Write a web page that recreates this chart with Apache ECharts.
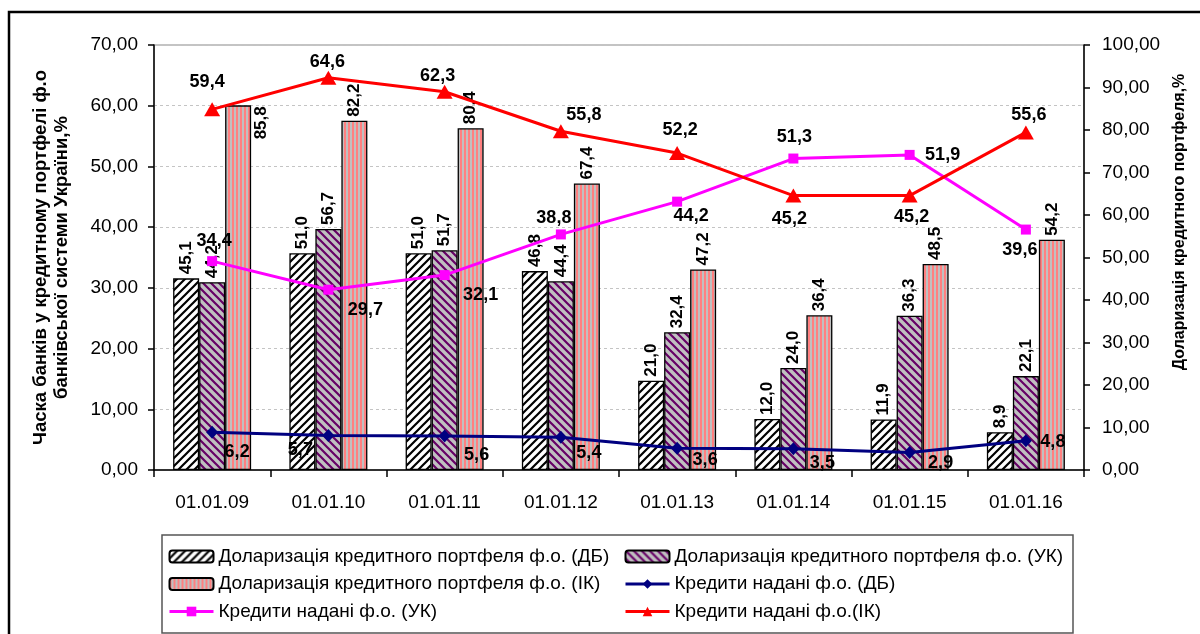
<!DOCTYPE html>
<html>
<head>
<meta charset="utf-8">
<script src="https://cdn.jsdelivr.net/npm/echarts@6/dist/echarts.min.js"></script>
<style>
    html, body {margin: 0; padding: 0; background: #fff;}
    #chart {width: 1200px; height: 634px;}
</style>
</head>
<body>
<div id="chart"></div>
<script>
// dates
var categories = ['01.01.09', '01.01.10', '01.01.11', '01.01.12', '01.01.13', '01.01.14', '01.01.15', '01.01.16'];
// доларизація, % (права вісь)
var dollarDB = [45.1, 51.0, 51.0, 46.8, 21.0, 12.0, 11.9, 8.9];
var dollarUK = [44.2, 56.7, 51.7, 44.4, 32.4, 24.0, 36.3, 22.1];
var dollarIK = [85.8, 82.2, 80.4, 67.4, 47.2, 36.4, 48.5, 54.2];
// частка банків, % (ліва вісь)
var loansDB = [6.2, 5.7, 5.6, 5.4, 3.6, 3.5, 2.9, 4.8];
var loansUK = [34.4, 29.7, 32.1, 38.8, 44.2, 51.3, 51.9, 39.6];
var loansIK = [59.4, 64.6, 62.3, 55.8, 52.2, 45.2, 45.2, 55.6];

var names = {
    bDB: 'Доларизація кредитного портфеля ф.о. (ДБ)',
    bUK: 'Доларизація кредитного портфеля ф.о. (УК)',
    bIK: 'Доларизація кредитного портфеля ф.о. (ІК)',
    lDB: 'Кредити надані ф.о. (ДБ)',
    lUK: 'Кредити надані ф.о. (УК)',
    lIK: 'Кредити надані ф.о.(ІК)'
};

// label shifts for the line series, like in the excel picture
var offDB = [[25, 20], [-28, 15], [32, 19], [28, 16], [28, 12], [29, 14], [31, 11], [27, 1]];
var offUK = [[2, -20], [37, 20], [36, 20], [-7, -16], [14, 14], [1, -22], [33, 0], [-6, 20]];
var offIK = [[-5, -27], [-1, -16], [-7, -16], [23, -16], [3, -23], [-4, 23], [2, 21], [3, -17]];

var FONT = 'Liberation Sans, Arial, sans-serif';

function comma(v, n) {
    return v.toFixed(n).replace('.', ',');
}

function hatch(bg, fg, dir) {
    var c = document.createElement('canvas');
    c.width = 8; c.height = 8;
    var g = c.getContext('2d');
    g.fillStyle = bg;
    g.fillRect(0, 0, 8, 8);
    g.strokeStyle = fg;
    g.lineWidth = 2.2;
    g.beginPath();
    if (dir > 0) {
        g.moveTo(-4, 4); g.lineTo(4, -4);
        g.moveTo(0, 8); g.lineTo(8, 0);
        g.moveTo(4, 12); g.lineTo(12, 4);
    } else {
        g.moveTo(-4, 4); g.lineTo(4, 12);
        g.moveTo(0, 0); g.lineTo(8, 8);
        g.moveTo(4, -4); g.lineTo(12, 4);
    }
    g.stroke();
    return {image: c, repeat: 'repeat'};
}

function stripes() {
    var c = document.createElement('canvas');
    c.width = 4; c.height = 4;
    var g = c.getContext('2d');
    g.fillStyle = '#ff8080';
    g.fillRect(0, 0, 4, 4);
    g.fillStyle = '#c0c0c0';
    g.fillRect(2, 0, 2, 4);
    return {image: c, repeat: 'repeat'};
}

var barLabel = {
    show: true, position: 'top', distance: 4, rotate: 90, align: 'left', verticalAlign: 'middle',
    color: '#000', fontFamily: FONT, fontWeight: 'bold', fontSize: 17,
    formatter: function (p) { return comma(p.value, 1); }
};

function barSeries(name, values, fill) {
    return {
        name: name, type: 'bar', yAxisIndex: 1, barWidth: 26, barGap: '0%',
        itemStyle: {color: fill, borderColor: '#000', borderWidth: 1.3},
        label: barLabel,
        data: values.slice()
    };
}

function lineSeries(name, values, color, symbol, size, offs) {
    return {
        name: name, type: 'line', yAxisIndex: 0, z: 5,
        symbol: symbol, symbolSize: size,
        lineStyle: {color: color, width: 3},
        itemStyle: {color: color},
        data: values.map(function (v, i) {
            return {value: v, label: {offset: offs[i]}};
        }),
        label: {
            show: true, position: 'inside', color: '#000', fontFamily: FONT,
            fontWeight: 'bold', fontSize: 18,
            formatter: function (p) { return comma(p.value, 1); }
        }
    };
}

var sIK = barSeries(names.bIK, dollarIK, stripes());
// first value sits to the right of its bar
sIK.data[0] = {value: dollarIK[0], label: {position: [36, 34], align: 'left', verticalAlign: 'middle', rotate: 90}};

var legendText = {fontFamily: FONT, fontSize: 19, color: '#000'};

function legendItem(name, isLine) {
    return isLine ? {name: name, lineStyle: {width: 3}} : {name: name};
}

var option = {
    animation: false,
    textStyle: {fontFamily: FONT},
    grid: {left: 154, right: 116, top: 45, bottom: 164, show: true, borderColor: '#888', borderWidth: 1},
    legend: [
        {
            orient: 'vertical', left: 163, top: 542, itemWidth: 44, itemHeight: 12, itemGap: 8.5,
            textStyle: legendText,
            data: [legendItem(names.bDB), legendItem(names.bIK), legendItem(names.lUK, true)]
        },
        {
            orient: 'vertical', left: 619, top: 542, itemWidth: 44, itemHeight: 12, itemGap: 8.5,
            textStyle: legendText,
            data: [legendItem(names.bUK), legendItem(names.lDB, true), legendItem(names.lIK, true)]
        }
    ],
    xAxis: {
        type: 'category', data: categories,
        axisLine: {lineStyle: {color: '#000', width: 1.5}},
        axisTick: {show: true, length: 7, lineStyle: {color: '#000', width: 1.5}},
        axisLabel: {color: '#000', fontSize: 19, margin: 23, fontFamily: FONT}
    },
    yAxis: [
        {
            type: 'value', min: 0, max: 70, interval: 10, position: 'left',
            name: 'Часка банків у кредитному портфелі ф.о\nбанківської системи України,%',
            nameLocation: 'middle', nameGap: 82,
            nameTextStyle: {color: '#000', fontWeight: 'bold', fontSize: 18.5, lineHeight: 21, fontFamily: FONT},
            axisLine: {show: true, lineStyle: {color: '#000', width: 1.5}},
            axisTick: {show: true, length: 6, lineStyle: {color: '#000', width: 1.5}},
            axisLabel: {color: '#000', fontSize: 19, margin: 16, fontFamily: FONT,
                formatter: function (v) { return comma(v, 2); }},
            splitLine: {show: true, lineStyle: {color: '#c4c4c4', type: [3, 3], width: 1}}
        },
        {
            type: 'value', min: 0, max: 100, interval: 10, position: 'right',
            axisLine: {show: true, lineStyle: {color: '#000', width: 1.5}},
            axisTick: {show: true, length: 6, lineStyle: {color: '#000', width: 1.5}},
            axisLabel: {color: '#000', fontSize: 19, margin: 18, fontFamily: FONT,
                formatter: function (v) { return comma(v, 2); }},
            splitLine: {show: false}
        }
    ],
    graphic: [
        {type: 'rect', shape: {x: 9, y: 12, width: 1220, height: 660}, style: {fill: 'none', stroke: '#000', lineWidth: 2.5}, silent: true},
        {type: 'rect', shape: {x: 162, y: 535, width: 911, height: 98}, style: {fill: 'none', stroke: '#555', lineWidth: 1.5}, silent: true},
        {
            type: 'text', x: 1180, y: 222, rotation: Math.PI / 2,
            style: {text: 'Доларизація кредитного портфеля,%', font: 'bold 16px ' + FONT, fill: '#000',
                textAlign: 'center', textVerticalAlign: 'middle'}
        }
    ],
    series: [
        barSeries(names.bDB, dollarDB, hatch('#ffffff', '#000000', 1)),
        barSeries(names.bUK, dollarUK, hatch('#c0c0c0', '#660066', -1)),
        sIK,
        lineSeries(names.lDB, loansDB, '#000080', 'diamond', [12, 13], offDB),
        lineSeries(names.lUK, loansUK, '#ff00ff', 'rect', 10, offUK),
        lineSeries(names.lIK, loansIK, '#ff0000', 'triangle', [16, 14], offIK)
    ]
};

var chart = echarts.init(document.getElementById('chart'));
chart.setOption(option);
</script>
</body>
</html>
